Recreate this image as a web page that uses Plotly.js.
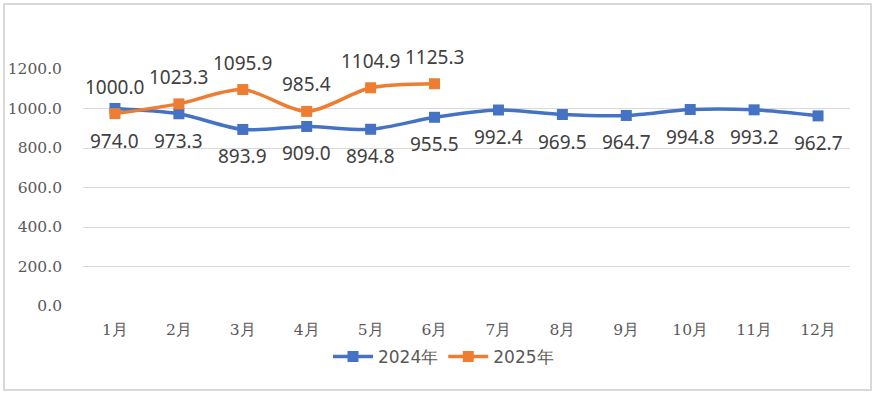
<!DOCTYPE html>
<html>
<head>
<meta charset="utf-8">
<script src="https://cdn.plot.ly/plotly-3.0.1.min.js"></script>
<style>
  html, body { margin: 0; padding: 0; background: #fff; }
  #wrap { position: relative; width: 875px; height: 393px; }
  #chart { width: 875px; height: 393px; }
  #frame { position: absolute; left: 3px; top: 3px; width: 865px; height: 384px; border: 2px solid #d9d9d9; pointer-events: none; }
</style>
</head>
<body>
<div id="wrap"><div id="chart"></div><div id="frame"></div></div>
<script>
const months = ['1月','2月','3月','4月','5月','6月','7月','8月','9月','10月','11月','12月'];
const series2024 = [1000.0, 973.3, 893.9, 909.0, 894.8, 955.5, 992.4, 969.5, 964.7, 994.8, 993.2, 962.7];
const months2025 = ['1月','2月','3月','4月','5月','6月'];
const series2025 = [974.0, 1023.3, 1095.9, 985.4, 1104.9, 1125.3];
const yTicks = [0, 200, 400, 600, 800, 1000, 1200];

const labelFont = {family: '"Noto Sans", sans-serif', size: 19, color: '#404040'};
const tickFont = {family: '"DejaVu Serif", serif', size: 15.5, color: '#595959'};

const traces = [
  {
    name: '2024年', x: months, y: series2024, type: 'scatter', mode: 'lines+markers',
    line: {color: '#4472C4', width: 3.5, shape: 'spline', smoothing: 0.8},
    marker: {symbol: 'square', size: 11, color: '#4472C4'},
    cliponaxis: false
  },
  {
    name: '2025年', x: months2025, y: series2025, type: 'scatter', mode: 'lines+markers',
    line: {color: '#ED7D31', width: 3.5, shape: 'spline', smoothing: 0.8},
    marker: {symbol: 'square', size: 11, color: '#ED7D31'},
    cliponaxis: false
  }
];

const annotations = [];
series2024.forEach((v, i) => {
  annotations.push({x: months[i], y: v, xref: 'x', yref: 'y', text: v.toFixed(1),
    showarrow: false, font: labelFont, yshift: i === 0 ? 22 : -27});
});
series2025.forEach((v, i) => {
  annotations.push({x: months2025[i], y: v, xref: 'x', yref: 'y', text: v.toFixed(1),
    showarrow: false, font: labelFont, yshift: i === 0 ? -27 : 27});
});

const layout = {
  width: 875, height: 393,
  margin: {l: 83, r: 25, t: 69, b: 87},
  paper_bgcolor: '#ffffff', plot_bgcolor: '#ffffff',
  showlegend: true,
  legend: {orientation: 'h', x: 0.47, xanchor: 'center', y: -0.215, yanchor: 'middle',
           itemwidth: 40, tracegroupgap: 0,
           font: {family: '"DejaVu Sans", sans-serif', size: 17, color: '#595959'}},
  annotations: annotations,
  xaxis: {
    type: 'category', categoryarray: months, categoryorder: 'array',
    showgrid: false, zeroline: false, showline: false, ticks: '',
    tickfont: tickFont, range: [-0.5, 11.5], fixedrange: true, ticklabelstandoff: 12
  },
  yaxis: {
    range: [0, 1200], tickvals: yTicks, ticktext: yTicks.map(v => v.toFixed(1)),
    showgrid: true, gridcolor: '#d9d9d9', gridwidth: 1, zeroline: false, showline: false,
    ticks: '', ticklabelstandoff: 20, tickfont: tickFont, fixedrange: true
  },
  font: {family: '"DejaVu Sans", sans-serif'}
};

Plotly.newPlot('chart', traces, layout, {displayModeBar: false, staticPlot: true});
</script>
</body>
</html>
